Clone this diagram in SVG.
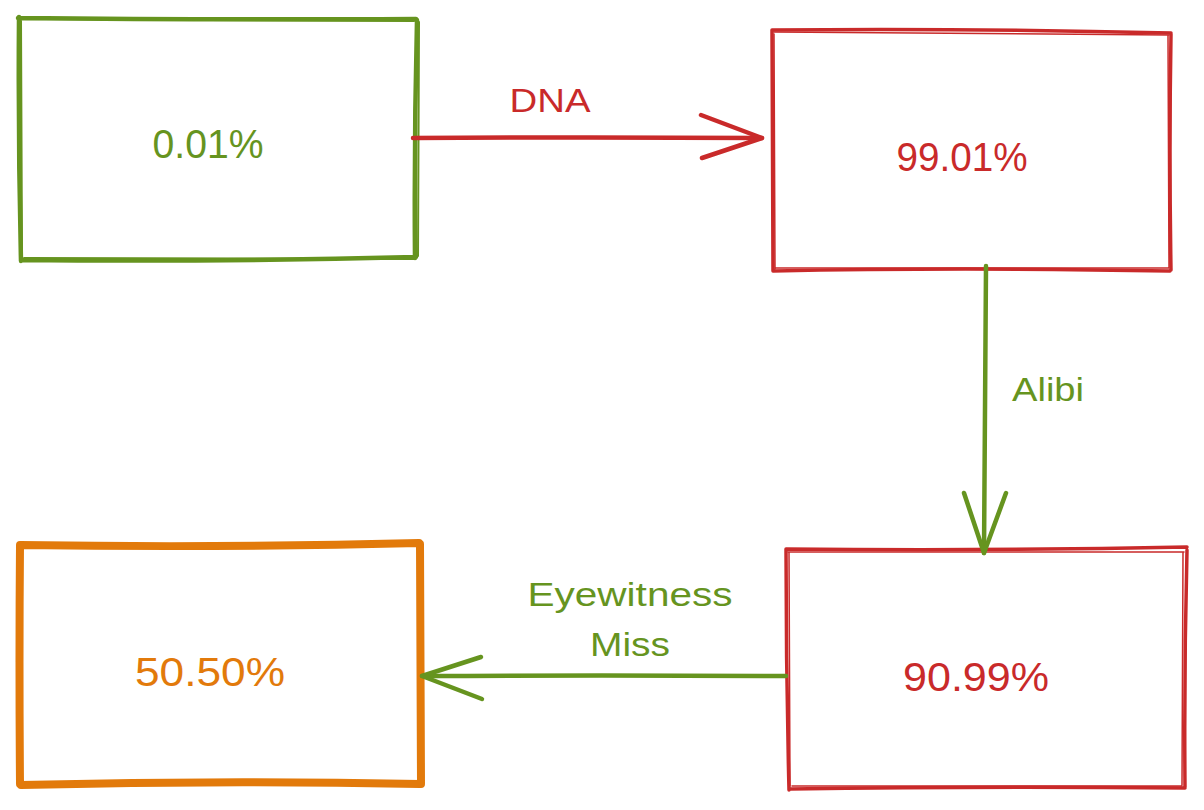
<svg xmlns="http://www.w3.org/2000/svg" width="1204" height="810" viewBox="0 0 1204 810">
<style>
.box{fill:none;stroke-linecap:round;stroke-linejoin:round}
.g{stroke:#66941f}
.r{stroke:#c92a2a}
.o{stroke:#e27a0b}
.conn path{fill:none;stroke-width:4.5;stroke-linecap:round;stroke-linejoin:round}
text{font-family:"Liberation Sans","DejaVu Sans",sans-serif;text-anchor:middle}
.pct{font-size:40px}
.lbl{font-size:34px}
.tg{fill:#66941f}
.tr{fill:#c92a2a}
.to{fill:#e27a0b}
</style>
<rect width="1204" height="810" fill="#ffffff"/>
<g id="node-001">
<path class="box g" stroke-width="4.5" d="M18 18 Q200 20 416 19 M417 20 Q414 140 415 258 M416 257 Q220 262 21 260 M21 261 Q18 140 19 17"/>
<path class="box g" stroke-width="2" d="M20 19 L414 21 M419 22 L418 256 M414 259 L24 258 M22 258 L21 20"/>
<text class="pct tg" x="208" y="158" textLength="111" lengthAdjust="spacingAndGlyphs">0.01%</text>
</g>
<g id="node-002">
<path class="box r" stroke-width="3.5" d="M772 30 Q960 28 1171 33 M1171 34 Q1169 150 1171 270 M1170 271 Q960 267 773 271 M773 271 Q773 150 772 30"/>
<path class="box r" stroke-width="1.5" d="M774 32 L1169 35 M1168 36 L1169 268 M1168 268 L776 268 M775 269 L774 34"/>
<text class="pct tr" x="962" y="171" textLength="131" lengthAdjust="spacingAndGlyphs">99.01%</text>
</g>
<g id="node-003">
<path class="box r" stroke-width="3.5" d="M786 549 Q990 551 1187 547 M1187 550 Q1184 670 1185 787 M1185 788 Q980 786 790 789 M789 790 Q786 670 786 549"/>
<path class="box r" stroke-width="1.5" d="M788 552 L1184 552 M1183 553 L1182 785 M1182 786 L792 786 M790 786 L789 552"/>
<text class="pct tr" x="976" y="691" textLength="146" lengthAdjust="spacingAndGlyphs">90.99%</text>
</g>
<g id="node-004">
<path class="box o" stroke-width="8" d="M20 545 Q220 548 419 543 M420 544 Q420 660 421 784 M420 784 Q220 780 21 785 M20 784 Q19 660 20 545"/>
<text class="pct to" x="210" y="686" textLength="150" lengthAdjust="spacingAndGlyphs">50.50%</text>
</g>
<g id="connectors" class="conn">
<g id="edge-dna">
<path class="r" d="M413 138 Q590 137 762 138"/>
<path class="r" d="M701 115 L762 138 L702 158"/>
<text class="lbl tr" x="550" y="112" textLength="81" lengthAdjust="spacingAndGlyphs">DNA</text>
</g>
<g id="edge-alibi">
<path class="g" d="M986 266 Q985 410 984 553"/>
<path class="g" d="M964 493 L984 553 L1006 493"/>
<text class="lbl tg" x="1048" y="401" textLength="72" lengthAdjust="spacingAndGlyphs">Alibi</text>
</g>
<g id="edge-eyewitness">
<path class="g" d="M786 676 Q600 675 422 676"/>
<path class="g" d="M481 657 L422 676 L482 699"/>
<text class="lbl tg" x="630" y="606" textLength="205" lengthAdjust="spacingAndGlyphs">Eyewitness</text>
<text class="lbl tg" x="630" y="656" textLength="80" lengthAdjust="spacingAndGlyphs">Miss</text>
</g>
</g>
</svg>
